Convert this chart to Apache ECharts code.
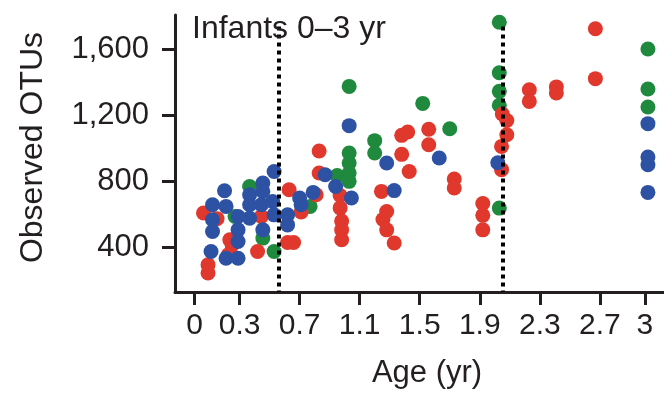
<!DOCTYPE html>
<html><head><meta charset="utf-8">
<script src="https://cdn.jsdelivr.net/npm/echarts@6/dist/echarts.min.js"></script>
<style>html,body{margin:0;padding:0;background:#fff}#c{width:664px;height:394px}</style>
</head><body><div id="c"></div>
<script>
// Data (age in years, observed OTUs)
const redPoints = [
  [0.09,295],[0.09,245],[0.06,609],[0.15,575],[0.235,447],[0.25,416],[0.225,356],
  [0.445,588],[0.42,376],[0.63,750],[0.62,430],[0.66,430],[0.71,615],[0.81,720],
  [0.83,985],[0.83,852],[0.97,715],[0.97,640],[0.98,560],[0.98,507],[0.98,447],
  [1.245,740],[1.28,618],[1.255,570],[1.28,507],[1.33,427],[1.38,1080],[1.42,1100],
  [1.38,965],[1.43,861],[1.56,1117],[1.56,1023],[1.73,815],[1.73,761],
  [1.92,667],[1.92,595],[1.92,507],[2.05,1210],[2.08,1170],[2.08,1084],[2.045,1013],[2.045,872],
  [2.23,1357],[2.23,1286],[2.41,1374],[2.41,1337],[2.67,1727],[2.67,1424]
];
const bluePoints = [
  [0.12,659],[0.12,568],[0.12,497],[0.11,376],[0.2,744],[0.21,649],[0.21,335],
  [0.29,588],[0.29,507],[0.29,436],[0.29,335],[0.367,720],[0.367,659],[0.367,578],
  [0.455,791],[0.455,740],[0.445,659],[0.455,507],[0.53,861],[0.52,679],[0.53,598],
  [0.62,598],[0.62,537],[0.7,700],[0.71,659],[0.79,734],[0.87,841],[0.94,770],
  [1.03,1139],[1.045,700],[1.28,912],[1.33,745],[1.63,943],[2.02,914],
  [3.02,1151],[3.02,949],[3.02,902],[3.02,734]
];
const greenPoints = [
  [0.27,588],[0.367,770],[0.455,457],[0.53,376],[0.77,649],[0.95,836],
  [1.03,1377],[1.03,973],[1.03,912],[1.03,852],[1.03,801],[1.2,1048],[1.2,973],
  [1.52,1274],[1.7,1120],[2.03,1766],[2.03,1460],[2.03,1347],[2.03,1263],[2.03,639],
  [3.02,1604],[3.02,1361],[3.02,1252]
];
const dividerAges = [0.56, 2.05];
const dividerTop = 1740;
const xTicks = [0, 0.3, 0.7, 1.1, 1.5, 1.9, 2.3, 2.7, 3];
const yTicks = [400, 800, 1200, 1600];

const ink = '#231f20';
const font = 'Liberation Sans, Arial, Helvetica, sans-serif';
const chart = echarts.init(document.getElementById('c'), null, {renderer: 'canvas'});
const yMin = 130, yMax = 1810;
chart.setOption({
  animation: false,
  title: {
    text: 'Infants 0\u20133 yr', left: 192, top: 13, padding: 0,
    textStyle: {fontFamily: font, fontSize: 32, fontWeight: 'normal', color: ink}
  },
  grid: {left: 175, right: 0, top: 15, bottom: 102},
  xAxis: {
    type: 'value', min: -0.13, max: 3.127,
    name: 'Age (yr)', nameLocation: 'middle', nameGap: 66,
    nameTextStyle: {fontFamily: font, fontSize: 31, color: ink, padding: [0, 0, 0, 15]},
    axisLine: {show: true, onZero: false, lineStyle: {color: ink, width: 3}},
    axisTick: {show: true, length: 13, lineStyle: {color: ink, width: 3}, customValues: xTicks},
    axisLabel: {fontFamily: font, fontSize: 30, color: ink, margin: 19, customValues: xTicks,
      formatter: v => String(v)},
    splitLine: {show: false}
  },
  yAxis: {
    type: 'value', min: yMin, max: yMax,
    name: 'Observed OTUs', nameLocation: 'middle', nameGap: 126,
    nameTextStyle: {fontFamily: font, fontSize: 32, color: ink, padding: [0, 0, 0, 12]},
    axisLine: {show: true, onZero: false, lineStyle: {color: ink, width: 3}},
    axisTick: {show: true, length: 13, lineStyle: {color: ink, width: 3}, customValues: yTicks},
    axisLabel: {fontFamily: font, fontSize: 31, color: ink, margin: 26, customValues: yTicks,
      formatter: v => v.toLocaleString('en-US')},
    splitLine: {show: false}
  },
  series: [
    {type: 'scatter', data: greenPoints, symbolSize: 15, itemStyle: {color: '#1f8a3e', opacity: 1}},
    {type: 'scatter', data: redPoints, symbolSize: 15, itemStyle: {color: '#e0382d', opacity: 1}},
    {type: 'scatter', data: bluePoints, symbolSize: 15, itemStyle: {color: '#2e52a3', opacity: 1}},
    {
      type: 'scatter', data: [], z: 10,
      markLine: {
        silent: true, symbol: ['none', 'none'], label: {show: false},
        lineStyle: {color: '#000', width: 4, type: [4, 4]},
        data: dividerAges.map(a => [{coord: [a, dividerTop]}, {coord: [a, yMin]}])
      }
    }
  ]
});
</script>
</body></html>
